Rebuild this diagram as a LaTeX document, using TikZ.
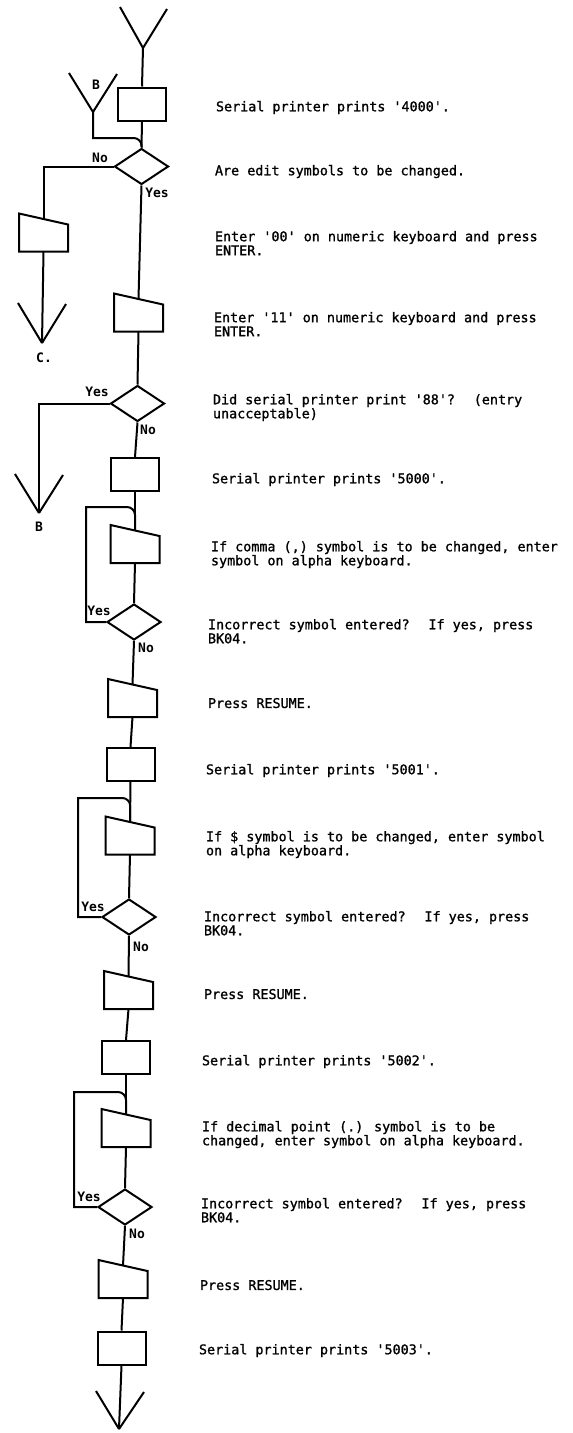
\documentclass[tikz,border=0pt]{standalone}
\usepackage{fontspec}
\newfontfamily\tw{DejaVu Sans Mono}[Ligatures=TeXOff,FakeBold=1.2]
\newfontfamily\twb{DejaVu Sans Mono Bold}[Ligatures=TeXOff]
\usetikzlibrary{shapes.geometric,calc}
\newcommand\mytrap[2]{%
  \node[trapframe] (#1) at (#2) {};
  \draw (#1.north west) -- ($(#1.north east)+(0,11)$) -- (#1.south east) -- (#1.south west) -- cycle;
  \coordinate (#1-top) at ($(#1.north)+(0,5.5)$);
}
\tikzset{
  stepbox/.style={draw, rectangle, minimum width=48pt, minimum height=33pt, inner sep=0pt},
  decbox/.style={draw, diamond, minimum width=54pt, minimum height=36pt, inner sep=0pt},
  trapframe/.style={rectangle, minimum width=49pt, minimum height=38pt, inner sep=0pt, outer sep=0pt},
  desc/.style={font={\tw\fontsize{13.4pt}{14pt}\selectfont}, anchor=north west, align=left, inner sep=0pt},
  lbl/.style={font={\twb\fontsize{13pt}{14pt}\selectfont}, inner sep=0pt},
}
\begin{document}
\begin{tikzpicture}[x=1pt,y=-1pt,line width=2pt]
\useasboundingbox (0,0) rectangle (573,1433);
% flow shapes
\coordinate (topv) at (143,48);
\node[stepbox] (b4000) at (142,104) {};
\node[decbox] (d1) at (141.5,166.5) {};
\coordinate (bv1) at (93,112);
\coordinate (bj) at (141.7,138);
\mytrap{tL}{43.5,232.5}
\coordinate (cv) at (42,343);
\mytrap{t11}{138.5,312.5}
\node[decbox] (d2) at (137.5,403.5) {};
\coordinate (bv2) at (39,513);
\node[stepbox] (b5000) at (135,474.5) {};
\mytrap{tc}{135,544}
\node[decbox] (d3) at (134,622) {};
\mytrap{tr1}{132.5,698}
\node[stepbox] (b5001) at (130.5,764.5) {};
\mytrap{td}{130,835.5}
\node[decbox] (d4) at (129,917) {};
\mytrap{tr2}{128.5,990}
\node[stepbox] (b5002) at (126,1057.5) {};
\mytrap{tp}{126,1128}
\node[decbox] (d5) at (125,1207) {};
\mytrap{tr3}{123,1279}
\node[stepbox] (b5003) at (121.5,1348) {};
\coordinate (endv) at (119,1429);
% loop coordinates
\coordinate (l1) at (86,507);   \coordinate (j1) at (135,507);
\coordinate (l2) at (78,798);   \coordinate (j2) at (130.3,798);
\coordinate (l3) at (74,1092);  \coordinate (j3) at (126,1092);
% funnels / arrow heads
\draw (topv) -- +(-23,-41);  \draw (topv) -- +(24,-39);
\draw (bv1) -- +(-24,-39);   \draw (bv1) -- +(24,-38);
\draw (cv) -- +(-24,-40);    \draw (cv) -- +(24,-39);
\draw (bv2) -- +(-24,-39);   \draw (bv2) -- +(24,-38);
\draw (endv) -- +(-23,-38);  \draw (endv) -- +(25,-37);
% connectors
\draw (topv) -- (b4000.north);
\draw (b4000.south) -- (d1.north);
\draw (bv1) |- ($(bj)+(-20,0)$) [rounded corners=8pt] -- (bj) -- (d1.north);
\draw (d1.west) -| (tL-top);
\draw (tL.south) -- (cv);
\draw (d1.south) -- (t11-top);
\draw (t11.south) -- (d2.north);
\draw (d2.west) -| (bv2);
\draw (d2.south) -- (b5000.north);
\draw (b5000.south) -- (tc-top);
\draw (d3.west) -| (l1) -- ($(j1)+(-20,0)$) [rounded corners=8pt] -- (j1) -- (tc-top);
\draw (tc.south) -- (d3.north);
\draw (d3.south) -- (tr1-top);
\draw (tr1.south) -- (b5001.north);
\draw (b5001.south) -- (td-top);
\draw (d4.west) -| (l2) -- ($(j2)+(-20,0)$) [rounded corners=8pt] -- (j2) -- (td-top);
\draw (td.south) -- (d4.north);
\draw (d4.south) -- (tr2-top);
\draw (tr2.south) -- (b5002.north);
\draw (b5002.south) -- (tp-top);
\draw (d5.west) -| (l3) -- ($(j3)+(-20,0)$) [rounded corners=8pt] -- (j3) -- (tp-top);
\draw (tp.south) -- (d5.north);
\draw (d5.south) -- (tr3-top);
\draw (tr3.south) -- (b5003.north);
\draw (b5003.south) -- (endv);
% labels
\node[lbl] (lb1) at (96,85) {B};
\node[lbl] (ln1) at (100,157.5) {No};
\node[lbl] (ly1) at (157,193) {Yes};
\node[lbl] (lc) at (44,358) {C.};
\node[lbl] (ly2) at (97,392) {Yes};
\node[lbl] (ln2) at (148,430) {No};
\node[lbl] (lb2) at (39,527) {B};
\node[lbl] (ly3) at (99,611) {Yes};
\node[lbl] (ln3) at (146,648) {No};
\node[lbl] (ly4) at (93,907) {Yes};
\node[lbl] (ln4) at (141,947) {No};
\node[lbl] (ly5) at (89,1197) {Yes};
\node[lbl] (ln5) at (137,1234) {No};
% descriptions
\node[desc] (x1) at (215,100) {Serial printer prints '4000'.};
\node[desc] (x2) at (214,164) {Are edit symbols to be changed.};
\node[desc] (x3) at (214,230) {Enter '00' on numeric keyboard and press\\ENTER.};
\node[desc] (x4) at (213,311) {Enter '11' on numeric keyboard and press\\ENTER.};
\node[desc] (x5) at (212,393) {Did serial printer print '88'?~ (entry\\unacceptable)};
\node[desc] (x6) at (211,472) {Serial printer prints '5000'.};
\node[desc] (x7) at (210,540) {If comma (,) symbol is to be changed, enter\\symbol on alpha keyboard.};
\node[desc] (x8) at (207,618) {Incorrect symbol entered?~ If yes, press\\BK04.};
\node[desc] (x9) at (207,697) {Press RESUME.};
\node[desc] (x10) at (205,763) {Serial printer prints '5001'.};
\node[desc] (x11) at (205,830) {If \$ symbol is to be changed, enter symbol\\on alpha keyboard.};
\node[desc] (x12) at (203,910) {Incorrect symbol entered?~ If yes, press\\BK04.};
\node[desc] (x13) at (203,988) {Press RESUME.};
\node[desc] (x14) at (201,1054) {Serial printer prints '5002'.};
\node[desc] (x15) at (201,1120) {If decimal point (.) symbol is to be\\changed, enter symbol on alpha keyboard.};
\node[desc] (x16) at (200,1197) {Incorrect symbol entered?~ If yes, press\\BK04.};
\node[desc] (x17) at (199,1279) {Press RESUME.};
\node[desc] (x18) at (198,1343) {Serial printer prints '5003'.};
\end{tikzpicture}
\end{document}
